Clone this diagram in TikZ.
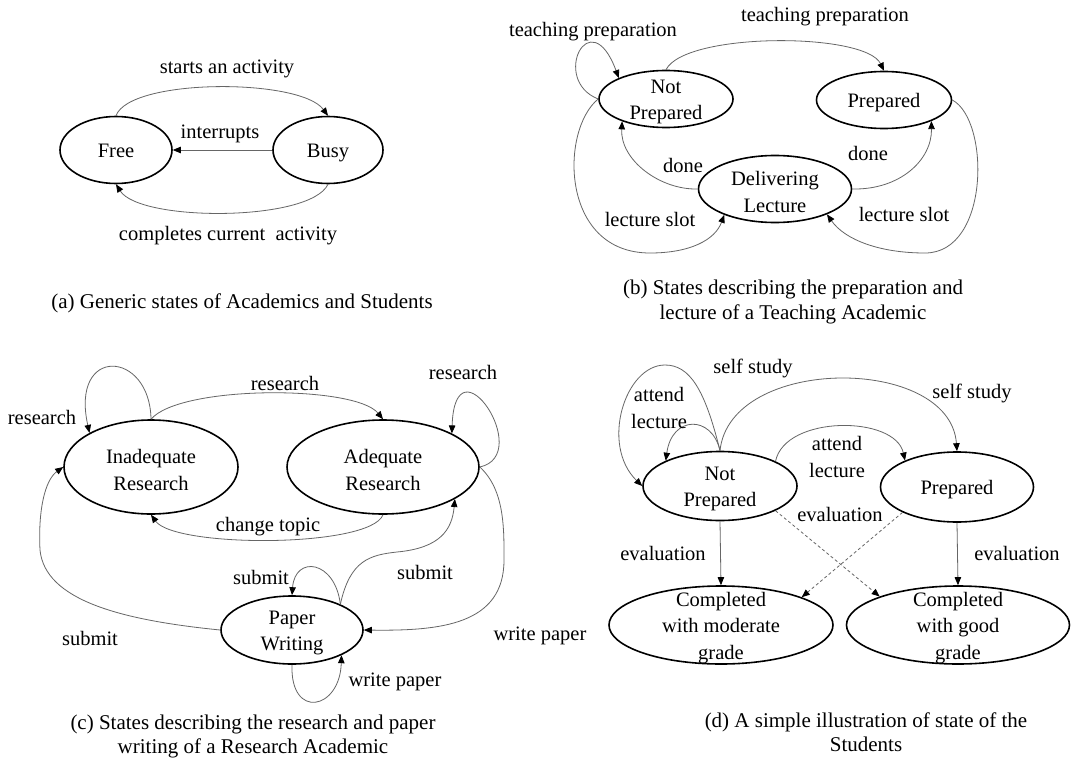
\documentclass[tikz,border=0pt]{standalone}
\usepackage{fontspec}
\setmainfont{Liberation Serif}
\usetikzlibrary{shapes.geometric,arrows.meta}
\newcommand{\myfs}{\fontsize{20.5}{26.5}\selectfont}
\newcommand{\mycap}{\fontsize{21}{24.5}\selectfont}
\begin{document}
\begin{tikzpicture}[x=1pt,y=-1pt,
  st/.style={ellipse,draw=black,line width=1.6pt,inner sep=0pt},
  lb/.style={inner sep=0pt,align=center,font=\myfs,yshift=-3pt},
  one/.style={text height=14pt,text depth=4.5pt},
  cp/.style={inner sep=0pt,align=center,font=\mycap,yshift=-2pt},
  tr/.style={draw=black!60,line width=0.8pt,-{Triangle[length=8pt,width=6.5pt,color=black]}},
  dsh/.style={tr,dash pattern=on 3pt off 2.5pt}]
\path[use as bounding box,fill=white] (0,0) rectangle (1071,760);

% ---------- (a)
\node[st,minimum width=112pt,minimum height=67pt] (free) at (116,150) {};
\node[lb,one] (freet) at (free) {Free};
\node[st,minimum width=110pt,minimum height=67pt] (busy) at (328,150) {};
\node[lb,one] (busyt) at (busy) {Busy};
\draw[tr] (free.north) .. controls (130,78) and (300,78) .. (busy.north);
\draw[tr] (busy.west) -- (free.east);
\draw[tr] (busy.south) .. controls (310,222) and (140,222) .. (free.south);
\node[lb,one] (la1) at (227,66) {starts an activity};
\node[lb,one] (la2) at (220,131) {interrupts};
\node[lb,one] (la3) at (228,233) {completes current~ activity};
\node[cp] (ca) at (242,301) {(a) Generic states of Academics and Students};

% ---------- (b)
\node[st,minimum width=134pt,minimum height=57pt] (np) at (666,99) {};
\node[lb] (npt) at (np) {Not\\Prepared};
\node[st,minimum width=135pt,minimum height=57pt] (pr) at (884,100) {};
\node[lb,one] (prt) at (pr) {Prepared};
\node[st,minimum width=153pt,minimum height=67pt] (dl) at (775,189) {};
\node[lb] (dlt) at (dl) {Delivering\\Lecture};
\draw[tr] (np.west) .. controls (550,80) and (590,0) .. (np.156);
\draw[tr] (np.north) .. controls (685,32) and (865,32) .. (pr.north);
\draw[tr] (dl.west) .. controls (660,190) and (620,160) .. (np.207);
\draw[tr] (dl.east) .. controls (900,190) and (932,160) .. (pr.-24);
\draw[tr] (np.west) .. controls (560,130) and (560,253) .. (650,253) .. controls (690,253) and (715,240) .. (dl.207);
\draw[tr] (pr.east) .. controls (990,120) and (990,253) .. (925,253) .. controls (880,253) and (845,240) .. (dl.-26);
\node[lb,one] (lb1) at (593,29) {teaching preparation};
\node[lb,one] (lb2) at (825,14) {teaching preparation};
\node[lb,one] (lb3) at (683,165) {done};
\node[lb,one] (lb4) at (868,153) {done};
\node[lb,one] (lb5) at (650,219) {lecture slot};
\node[lb,one] (lb6) at (904,214) {lecture slot};
\node[cp] (cb) at (793,300) {(b) States describing the preparation and\\lecture of a Teaching Academic};

% ---------- (c)
\node[st,minimum width=174pt,minimum height=94pt] (ir) at (151,467) {};
\node[lb] (irt) at (ir) {Inadequate\\Research};
\node[st,minimum width=192pt,minimum height=94pt] (ar) at (383,467) {};
\node[lb] (art) at (ar) {Adequate\\Research};
\node[st,minimum width=142pt,minimum height=68pt] (pw) at (292,630) {};
\node[lb] (pwt) at (pw) {Paper\\Writing};
\draw[tr] (ir.north) .. controls (150,350) and (70,345) .. (ir.151);
\draw[tr] (ir.north) .. controls (180,385) and (355,385) .. (ar.north);
\draw[tr] (ar.east) .. controls (535,455) and (455,335) .. (ar.26);
\draw[tr] (ar.south) .. controls (370,548) and (175,548) .. (ir.south);
\draw[tr] (pw.west) .. controls (120,620) and (45,600) .. (40,550) .. controls (38,510) and (45,480) .. (ir.west);
\draw[tr] (pw.28) .. controls (335,560) and (295,555) .. (pw.north);
\draw[tr] (pw.28) .. controls (350,560) and (370,555) .. (397,552) .. controls (440,548) and (452,530) .. (ar.-24);
\draw[tr] (ar.east) .. controls (505,490) and (504,530) .. (504,560) .. controls (504,625) and (440,631) .. (pw.east);
\draw[tr] (pw.south) .. controls (290,720) and (340,710) .. (pw.-27);
\node[lb,one] (lc1) at (42,417) {research};
\node[lb,one] (lc2) at (285,383) {research};
\node[lb,one] (lc3) at (463,372) {research};
\node[lb,one] (lc4) at (268,524) {change topic};
\node[lb,one] (lc5) at (90,638) {submit};
\node[lb,one] (lc6) at (261,577) {submit};
\node[lb,one] (lc7) at (425,572) {submit};
\node[lb,one] (lc8) at (540,633) {write paper};
\node[lb,one] (lc9) at (395,679) {write paper};
\node[cp] (cc) at (253,734.5) {(c) States describing the research and paper\\writing of a Research Academic};

% ---------- (d)
\node[st,minimum width=154pt,minimum height=69pt] (np2) at (720,486) {};
\node[lb] (np2t) at (np2) {Not\\Prepared};
\node[st,minimum width=153pt,minimum height=70pt] (pr2) at (957,487) {};
\node[lb,one] (pr2t) at (pr2) {Prepared};
\node[st,minimum width=224pt,minimum height=78pt] (cm) at (721,625) {};
\node[lb] (cmt) at (cm) {Completed\\with moderate\\grade};
\node[st,minimum width=223pt,minimum height=78pt] (cg) at (958,625) {};
\node[lb] (cgt) at (cg) {Completed\\with good\\grade};
\draw[tr] (np2.north) .. controls (705,390) and (690,365) .. (665,365) .. controls (625,365) and (600,445) .. (np2.west);
\draw[tr] (np2.north) .. controls (712,415) and (672,415) .. (np2.155);
\draw[tr] (np2.north) .. controls (730,355) and (950,355) .. (pr2.north);
\draw[tr] (np2.24) .. controls (785,415) and (895,415) .. (pr2.153);
\draw[tr] (np2.south) -- (cm.north);
\draw[tr] (pr2.south) -- (cg.north);
\draw[dsh] (np2.-24) -- (cg.160);
\draw[dsh] (pr2.205) -- (cm.19);
\node[lb,one] (ld1) at (753,366) {self study};
\node[lb] (ld2) at (659,405) {attend\\lecture};
\node[lb,one] (ld3) at (972,391) {self study};
\node[lb] (ld4) at (837,454) {attend\\lecture};
\node[lb,one] (ld5) at (663,553) {evaluation};
\node[lb,one] (ld6) at (1017,553) {evaluation};
\node[lb,one] (ld7) at (840,514) {evaluation};
\node[cp] (cd) at (866,730) {(d) A simple illustration of state of the\\Students};
\end{tikzpicture}
\end{document}
